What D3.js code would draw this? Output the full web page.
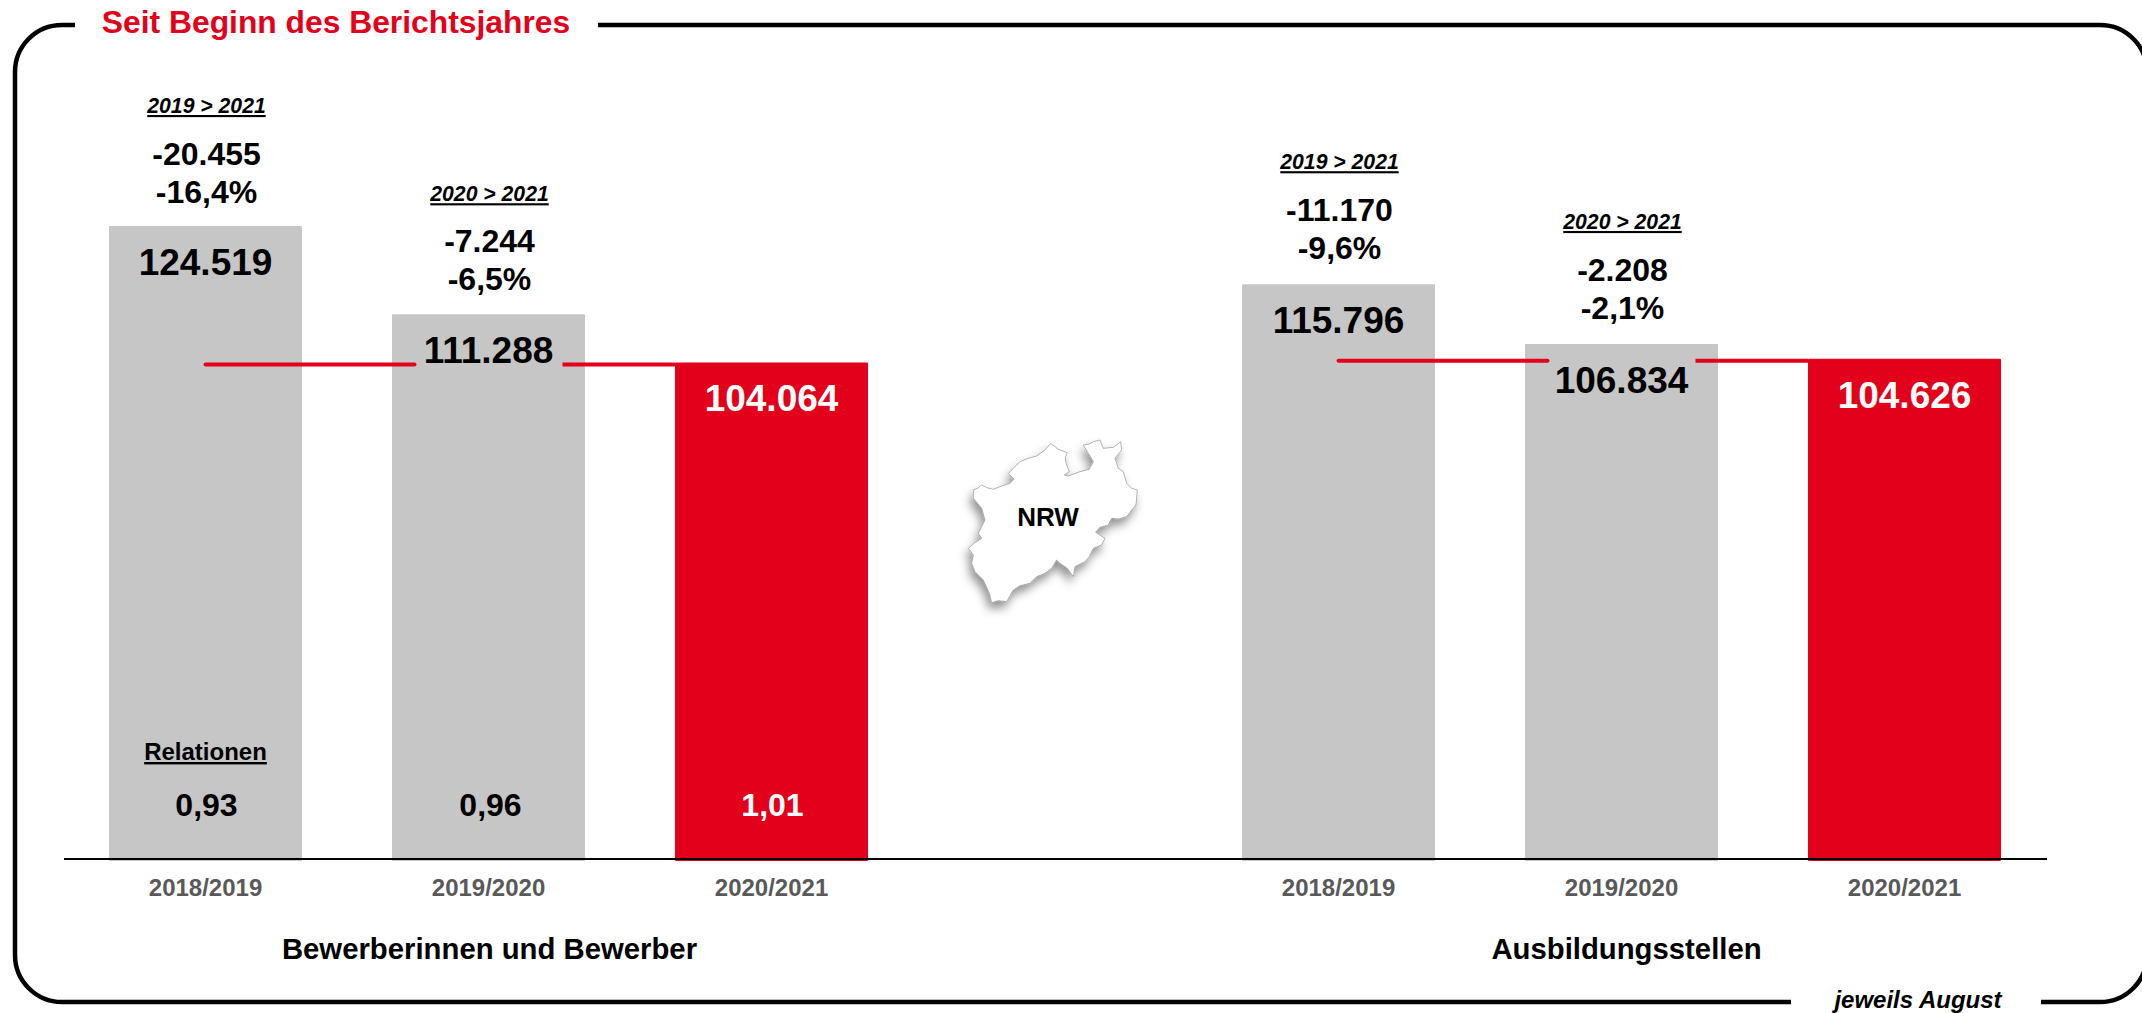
<!DOCTYPE html>
<html><head><meta charset="utf-8">
<script src="https://cdn.jsdelivr.net/npm/d3@7"></script>
<style>
html,body{margin:0;padding:0;background:#fff;overflow:hidden}
svg{display:block}
text{font-family:"Liberation Sans",Arial,sans-serif;font-weight:700;text-anchor:middle}
</style></head><body>
<svg id="c" width="2142" height="1013"></svg>
<script>
// ---- data ----
const years = ["2018/2019","2019/2020","2020/2021"];
const applicants = [124519,111288,104064];
const places = [115796,106834,104626];
const applicantLabels = ["124.519","111.288","104.064"];
const placeLabels = ["115.796","106.834","104.626"];
const compareYears = ["2019 > 2021","2020 > 2021"];
const applicantDiffs = ["-20.455","-7.244"];
const applicantPcts = ["-16,4%","-6,5%"];
const placeDiffs = ["-11.170","-2.208"];
const placePcts = ["-9,6%","-2,1%"];
const relations = ["0,93","0,96","1,01"];
const groupNames = ["Bewerberinnen und Bewerber","Ausbildungsstellen"];

const GREY="#C6C6C6", RED="#E2001A", TICK="#595959";
const svg=d3.select("#c");

// frame
const fl=15, ft=25, fr=2147, fb=1002, r=47;
const frame=d3.path();
frame.moveTo(75,ft); frame.lineTo(fl+r,ft); frame.arcTo(fl,ft,fl,ft+r,r); frame.lineTo(fl,fb-r);
frame.arcTo(fl,fb,fl+r,fb,r); frame.lineTo(1791,fb);
frame.moveTo(2041,fb); frame.lineTo(fr-r,fb); frame.arcTo(fr,fb,fr,fb-r,r); frame.lineTo(fr,ft+r);
frame.arcTo(fr,ft,fr-r,ft,r); frame.lineTo(598,ft);
svg.append("path").attr("d",frame.toString()).attr("fill","none").attr("stroke","#000").attr("stroke-width",4.5);

svg.append("text").attr("x",336).attr("y",33).attr("fill",RED).attr("font-size",31.8).text("Seit Beginn des Berichtsjahres");
svg.append("text").attr("x",1918).attr("y",1008).attr("fill","#000").attr("font-size",24).attr("font-style","italic").text("jeweils August");

// scales
const y=d3.scaleLinear().domain([29331,124519]).range([861,226]);
const padIn=90/283;
const panels=[
 {range:[109,868],values:applicants,labels:applicantLabels,diffs:applicantDiffs,pcts:applicantPcts,name:groupNames[0],rel:relations,dy:1},
 {range:[1242,2001],values:places,labels:placeLabels,diffs:placeDiffs,pcts:placePcts,name:groupNames[1],rel:null,dy:-1}
];

panels.forEach(p=>{
  const x=d3.scaleBand().domain(years).range(p.range).paddingInner(padIn).paddingOuter(0);
  const cx=d=>x(d)+x.bandwidth()/2;
  const g=svg.append("g");
  const rows=years.map((yr,i)=>({yr,i,v:p.values[i],lab:p.labels[i]}));

  g.selectAll("rect").data(rows).join("rect")
    .attr("x",d=>x(d.yr)).attr("width",x.bandwidth())
    .attr("y",d=>y(d.v)).attr("height",d=>y.range()[0]-y(d.v))
    .attr("rx",1).attr("fill",d=>d.i===2?RED:GREY);

  // reference line at the current year's level
  const ly=y(p.values[2])+2, gap=74;
  g.append("path").attr("fill","none").attr("stroke",RED).attr("stroke-width",4).attr("stroke-linecap","round")
    .attr("d",`M${cx(years[0])},${ly}H${cx(years[1])-gap}`);
  g.append("path").attr("fill","none").attr("stroke",RED).attr("stroke-width",4)
    .attr("d",`M${cx(years[1])+gap},${ly}H${x(years[2])}`);

  // value labels
  g.selectAll("text.v").data(rows).join("text").attr("class","v")
    .attr("x",d=>cx(d.yr)).attr("y",d=>y(d.v)+49)
    .attr("font-size",37).attr("fill",d=>d.i===2?"#fff":"#000").text(d=>d.lab);

  // comparisons above the grey bars
  [0,1].forEach(i=>{
    const top=y(p.values[i]), c=cx(years[i]);
    g.append("text").attr("x",c+1).attr("y",top-114+p.dy).attr("font-size",21.2).attr("font-style","italic")
      .attr("text-decoration","underline").text(compareYears[i]);
    g.append("text").attr("x",c+1).attr("y",top-62.5+(i===0?p.dy:0)).attr("font-size",32).text(p.diffs[i]);
    g.append("text").attr("x",c+1).attr("y",top-24.5+(i===0?p.dy:0)).attr("font-size",32).text(p.pcts[i]);
  });

  // relations
  if(p.rel){
    g.append("text").attr("x",cx(years[0])).attr("y",760).attr("font-size",24).attr("text-decoration","underline").text("Relationen");
    g.selectAll("text.r").data(rows).join("text").attr("class","r")
      .attr("x",d=>cx(d.yr)+(d.i===1?2:1)).attr("y",816).attr("font-size",32)
      .attr("fill",d=>d.i===2?"#fff":"#000").text(d=>p.rel[d.i]);
  }

  // category axis
  const ax=g.append("g").attr("transform","translate(0,859)").call(d3.axisBottom(x).tickSize(0).tickPadding(0));
  ax.select(".domain").remove();
  ax.selectAll("text").attr("y",37).attr("dy",0).attr("font-size",24)
    .attr("font-family",'"Liberation Sans",Arial,sans-serif').attr("font-weight",700).attr("fill",TICK);

  svg.append("text").attr("x",cx(years[1])+(p.rel?1:5)).attr("y",959).attr("font-size",29.3).text(p.name);
});

// baseline
svg.append("line").attr("x1",64).attr("x2",2047).attr("y1",859).attr("y2",859).attr("stroke","#000").attr("stroke-width",2);

// NRW map
const defs=svg.append("defs");
const f=defs.append("filter").attr("id","sh").attr("x","-30%").attr("y","-30%").attr("width","160%").attr("height","160%");
f.append("feDropShadow").attr("dx",-8).attr("dy",20).attr("stdDeviation",14).attr("flood-color","#000").attr("flood-opacity",0.42);
const outline=[[130,210],[142,205],[155,195],[170,203],[190,208],[215,198],[240,190],[252,178],[236,160],[250,145],[270,125],[295,115],[320,108],[345,90],[362,70],[385,88],[412,98],[406,112],[408,130],[418,155],[403,165],[415,168],[450,155],[478,148],[490,125],[475,100],[460,75],[478,72],[490,65],[510,60],[520,85],[550,82],[572,65],[575,90],[555,115],[565,145],[580,155],[590,190],[605,205],[622,210],[618,255],[605,270],[590,290],[565,297],[545,295],[535,315],[510,322],[497,337],[525,355],[515,375],[490,385],[478,410],[465,425],[435,440],[430,470],[412,445],[390,430],[380,420],[365,445],[345,460],[320,470],[300,490],[270,497],[250,510],[230,545],[205,542],[185,548],[178,520],[160,480],[135,455],[125,430],[130,405],[115,385],[135,368],[155,355],[145,340],[165,300],[155,265],[130,235]];
const mapG=svg.append("g").attr("transform","translate(930,420) scale(0.3333)");
mapG.append("path").attr("d",d3.line().curve(d3.curveLinearClosed)(outline))
  .attr("fill","#fff").attr("stroke","#8c8c8c").attr("stroke-width",2).attr("stroke-linejoin","round").attr("filter","url(#sh)");
svg.append("text").attr("x",1048).attr("y",526).attr("font-size",26).text("NRW");
</script></body></html>
